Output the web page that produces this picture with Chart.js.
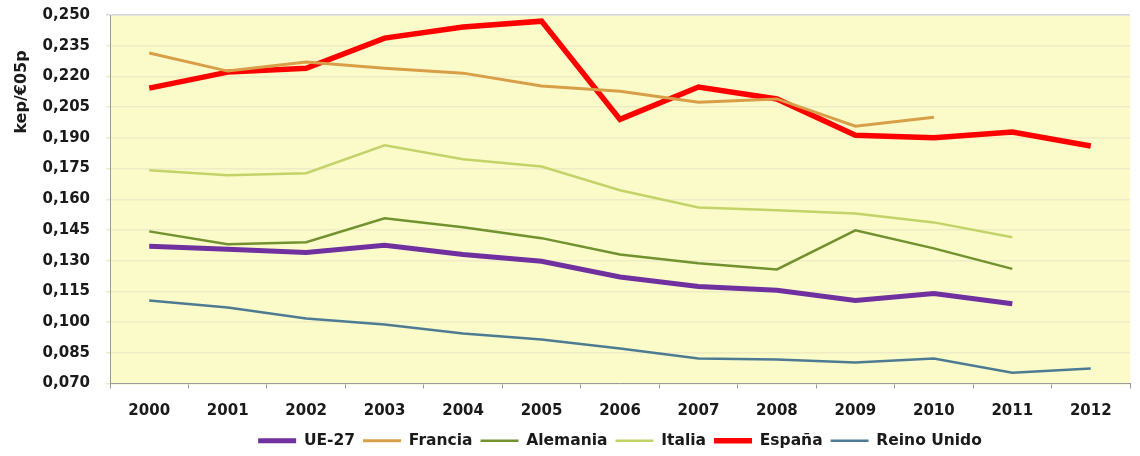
<!DOCTYPE html>
<html>
<head>
<meta charset="utf-8">
<script src="https://cdn.jsdelivr.net/npm/chart.js@4"></script>
<style>
  html, body { margin: 0; padding: 0; background: #ffffff; }
  #wrap { width: 1140px; height: 456px; }
</style>
</head>
<body>
<div id="wrap"><canvas id="chart" width="1140" height="456"></canvas></div>
<script>
const years = ['2000', '2001', '2002', '2003', '2004', '2005', '2006', '2007', '2008', '2009', '2010', '2011', '2012'];

const ue27 = [0.137, 0.1356, 0.134, 0.1375, 0.133, 0.1297, 0.122, 0.1174, 0.1155, 0.1106, 0.114, 0.109, null];
const francia = [0.2314, 0.2226, 0.227, 0.224, 0.2216, 0.2153, 0.2128, 0.2074, 0.209, 0.1957, 0.200, null, null];
const alemania = [0.1443, 0.138, 0.139, 0.1507, 0.1463, 0.141, 0.133, 0.1287, 0.1257, 0.1448, 0.136, 0.126, null];
const italia = [0.1742, 0.1717, 0.1727, 0.1864, 0.1795, 0.176, 0.1644, 0.156, 0.1546, 0.153, 0.1487, 0.1414, null];
const espana = [0.2143, 0.2221, 0.224, 0.2387, 0.2441, 0.247, 0.199, 0.2148, 0.209, 0.1913, 0.190, 0.1928, 0.186];
const reinoUnido = [0.1106, 0.1071, 0.1018, 0.0988, 0.0944, 0.0915, 0.0871, 0.0822, 0.0817, 0.0802, 0.0822, 0.0753, 0.0773];

const yMin = 0.070, yMax = 0.250, yStep = 0.015;
const fontFamily = '"DejaVu Sans", sans-serif';

function serie(label, data, color, width) {
    return {
        label: label,
        data: data,
        borderColor: color,
        backgroundColor: color,
        borderWidth: width,
        pointRadius: 0,
        pointHoverRadius: 0,
        tension: 0,
        spanGaps: false
    };
}

// fondo amarillo del area de trazado, leyenda centrada en el area y titulo del eje Y
const plotBackground = {
    id: 'plotBackground',
    afterLayout(chart) {
        const lg = chart.legend;
        const shift = (chart.chartArea.left + chart.chartArea.right) / 2 - (lg.left + lg.right) / 2;
        lg.left += shift;
        lg.right += shift;
        lg.top = 425;
        lg.bottom = 458;
    },
    beforeDraw(chart) {
        const { ctx, chartArea } = chart;
        ctx.save();
        ctx.fillStyle = '#fbfbca';
        ctx.fillRect(chartArea.left, chartArea.top, chartArea.right - chartArea.left, chartArea.bottom - chartArea.top);
        ctx.restore();
    },
    afterDraw(chart) {
        const { ctx } = chart;
        ctx.save();
        ctx.translate(22, 92);
        ctx.rotate(-Math.PI / 2);
        ctx.font = 'bold 16px ' + fontFamily;
        ctx.fillStyle = '#1a1a1a';
        ctx.textAlign = 'center';
        ctx.textBaseline = 'middle';
        ctx.fillText('kep/€05p', 0, 0);
        ctx.restore();
    }
};

new Chart(document.getElementById('chart'), {
    type: 'line',
    data: {
        labels: years,
        datasets: [
            serie('UE-27', ue27, '#7030a0', 5),
            serie('Francia', francia, '#d99e48', 3),
            serie('Alemania', alemania, '#71922f', 2.5),
            serie('Italia', italia, '#c3d369', 2.5),
            serie('España', espana, '#ff0000', 5.5),
            serie('Reino Unido', reinoUnido, '#4d7b94', 2.5)
        ]
    },
    options: {
        responsive: false,
        animation: false,
        layout: { padding: { top: 15, right: 10, bottom: 0, left: 0 } },
        scales: {
            x: {
                offset: true,
                grid: {
                    display: true,
                    offset: true,
                    drawOnChartArea: false,
                    drawTicks: true,
                    tickLength: 5,
                    color: '#9a9a9a'
                },
                border: { display: true, color: '#9a9a9a', width: 1 },
                ticks: {
                    color: '#1a1a1a',
                    padding: 14,
                    maxRotation: 0,
                    font: { family: fontFamily, size: 15, weight: 'bold' }
                },
                afterFit(scale) {
                    scale.height = 39;
                    scale.paddingLeft = 0;
                    scale.paddingRight = 0;
                }
            },
            y: {
                min: yMin,
                max: yMax,
                grid: {
                    color: function(c) { return c.index === c.chart.scales.y.ticks.length - 1 ? '#d8d4e4' : '#eeecc4'; },
                    lineWidth: 1.5,
                    drawTicks: true,
                    tickLength: 4
                },
                border: { display: true, color: '#9a9a9a', width: 1 },
                ticks: {
                    stepSize: yStep,
                    color: '#1a1a1a',
                    padding: 16,
                    font: { family: fontFamily, size: 15, weight: 'bold' },
                    callback: function(v) { return v.toFixed(3).replace('.', ','); }
                },
                afterFit(scale) {
                    scale.width = 110;
                    scale.paddingTop = 0;
                    scale.paddingBottom = 0;
                }
            }
        },
        plugins: {
            legend: {
                position: 'bottom',
                labels: {
                    usePointStyle: true,
                    pointStyle: 'line',
                    pointStyleWidth: 38,
                    boxHeight: 16,
                    padding: 8,
                    color: '#1a1a1a',
                    font: { family: fontFamily, size: 15.5, weight: 'bold' }
                }
            },
            tooltip: { enabled: false }
        }
    },
    plugins: [plotBackground]
});
</script>
</body>
</html>
